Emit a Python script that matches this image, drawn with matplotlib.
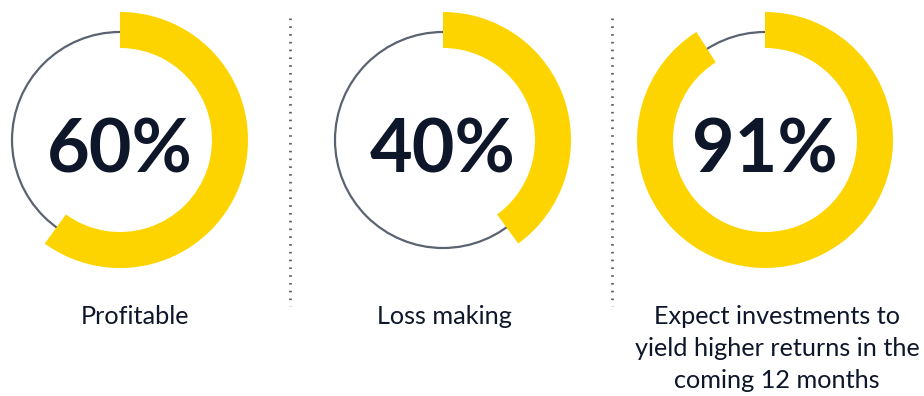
import matplotlib.pyplot as plt
from matplotlib.patches import Wedge, Circle

values = [60, 40, 91]
labels = ["Profitable", "Loss making",
          "Expect investments to\nyield higher returns in the\ncoming 12 months"]

yellow = "#FDD400"
grey = "#5B6372"
navy = "#0E1629"

W, H = 924, 396
fig = plt.figure(figsize=(W / 100, H / 100), dpi=100)
ax = fig.add_axes([0, 0, 1, 1])
ax.set_xlim(0, W)
ax.set_ylim(0, H)
ax.set_aspect("equal")
ax.axis("off")

centers_x = [120, 443, 765]
label_x = [135, 444, 777]
cy = H - 140
r_out, r_in, r_grey = 128, 92, 108

for cx, lx, v, lab in zip(centers_x, label_x, values, labels):
    ax.add_patch(Circle((cx, cy), r_grey, fill=False, ec=grey, lw=1.6))
    ax.add_patch(Wedge((cx, cy), r_out, 90 - 360 * v / 100, 90,
                       width=r_out - r_in, fc=yellow, ec="none"))
    ax.text(cx, cy - 11, f"{v}%", ha="center", va="center",
            fontsize=53, fontweight="bold", color=navy, family="Lato")
    ax.text(lx, H - 305, lab, ha="center", va="top", fontsize=18.2,
            color=navy, family="Lato", linespacing=1.48)

# dotted separators
for sx in [290, 612]:
    ax.plot([sx, sx], [H - 18, H - 306], color=grey, lw=2,
            linestyle=(0, (0.6, 2.2)))

fig.savefig("out.png", dpi=100)
